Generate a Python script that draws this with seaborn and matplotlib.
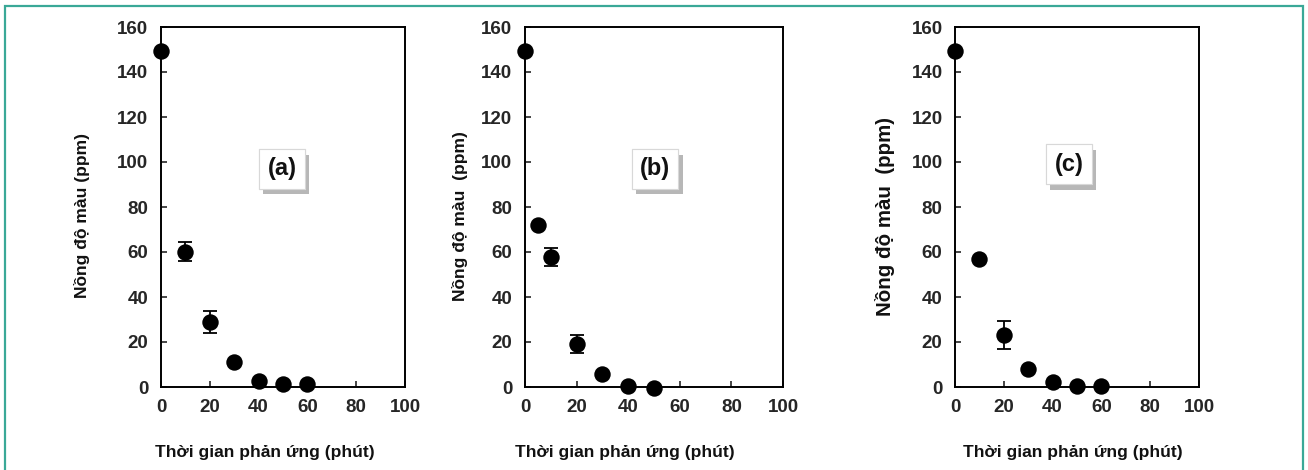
import matplotlib
matplotlib.use('Agg')
import matplotlib.pyplot as plt
import matplotlib.patches as mpatches
import matplotlib.patheffects as pe
import seaborn as sns

sns.set_style('ticks')
plt.rcParams['font.family'] = ['Liberation Sans', 'DejaVu Sans']

# reaction time (minutes) and colour concentration (ppm), panels a, b, c
time_a = [0, 10, 20, 30, 40, 50, 60]
conc_a = [149.5, 60.2, 29.0, 11.3, 2.8, 1.3, 1.3]
err_a = [0, 4.3, 4.8, 0, 0, 0, 0]

time_b = [0, 5, 10, 20, 30, 40, 50]
conc_b = [149.5, 72.0, 57.7, 19.1, 5.6, 0.4, -0.6]
err_b = [0, 0, 3.9, 4.0, 0, 0, 0]

time_c = [0, 10, 20, 30, 40, 50, 60]
conc_c = [149.5, 56.7, 23.1, 8.0, 2.1, 0.6, 0.6]
err_c = [0, 0, 6.2, 0, 0, 0, 0]

panel_tags = ['(a)', '(b)', '(c)']
ylabels = ['Nồng độ màu (ppm)', 'Nồng độ màu  (ppm)', 'Nồng độ màu  (ppm)']
xlabel = 'Thời gian phản ứng (phút)'
xticks = [0, 20, 40, 60, 80, 100]
yticks = [0, 20, 40, 60, 80, 100, 120, 140, 160]

W, H = 1308, 470
fig = plt.figure(figsize=(W / 100, H / 100), dpi=100)

# outer teal frame (bottom edge runs off the picture)
fig.patches.append(mpatches.Rectangle((5 / W, -0.05), 1298 / W, 1.05 - 6 / H,
                                      transform=fig.transFigure, fill=False,
                                      edgecolor='#3aa897', linewidth=1.6))

# axes boxes in pixels: left, right
boxes = [(161, 405), (525, 783), (955, 1199)]
top, bottom = 27, 387
ylabel_x = [82, 460, 885]
xlabel_x = [265, 625, 1073]
ylabel_size = [12.5, 12.5, 14.8]
tag_pos = [(49.6, 97), (50.4, 97), (46.7, 99)]

series = [(time_a, conc_a, err_a), (time_b, conc_b, err_b), (time_c, conc_c, err_c)]

for i, ((l, r), (t, c, e)) in enumerate(zip(boxes, series)):
    ax = fig.add_axes([l / W, (H - bottom) / H, (r - l) / W, (bottom - top) / H])
    # error bars only where the reference shows them
    ex = [x for x, s in zip(t, e) if s > 0]
    ey = [y for y, s in zip(c, e) if s > 0]
    es = [s for s in e if s > 0]
    ax.errorbar(ex, ey, yerr=es, fmt='none', ecolor='black', elinewidth=1.3,
                capsize=4.7, capthick=1.3, zorder=2, clip_on=False)
    sns.scatterplot(x=t, y=c, ax=ax, color='black', s=140, edgecolor='black',
                    linewidth=0, zorder=3, clip_on=False)
    ax.set_xlim(0, 100)
    ax.set_ylim(0, 160)
    ax.set_xticks(xticks)
    ax.set_yticks(yticks)
    ax.tick_params(direction='in', length=4, width=1.2, labelsize=13.5, pad=9)
    for lab in ax.get_xticklabels() + ax.get_yticklabels():
        lab.set_fontweight('bold')
    for sp in ax.spines.values():
        sp.set_linewidth(1.4)
        sp.set_color('black')

    txt = ax.text(tag_pos[i][0], tag_pos[i][1], panel_tags[i], ha='center', va='center',
                  fontsize=17, fontweight='bold', color='#111111',
                  bbox=dict(boxstyle='square,pad=0.35', facecolor='white',
                            edgecolor='#d8d8d8', linewidth=0.8))
    txt.get_bbox_patch().set_path_effects([
        pe.withSimplePatchShadow(offset=(3, -4), shadow_rgbFace='#888888', alpha=0.6),
        pe.Normal()])

    fig.text(ylabel_x[i] / W, (H - 216) / H, ylabels[i], rotation=90, ha='center',
             va='center', fontsize=ylabel_size[i], fontweight='bold', color='#111111')
    fig.text(xlabel_x[i] / W, (H - 452) / H, xlabel, ha='center', va='center',
             fontsize=12.5, fontweight='bold', color='#111111')

fig.savefig('out.png', dpi=100)
